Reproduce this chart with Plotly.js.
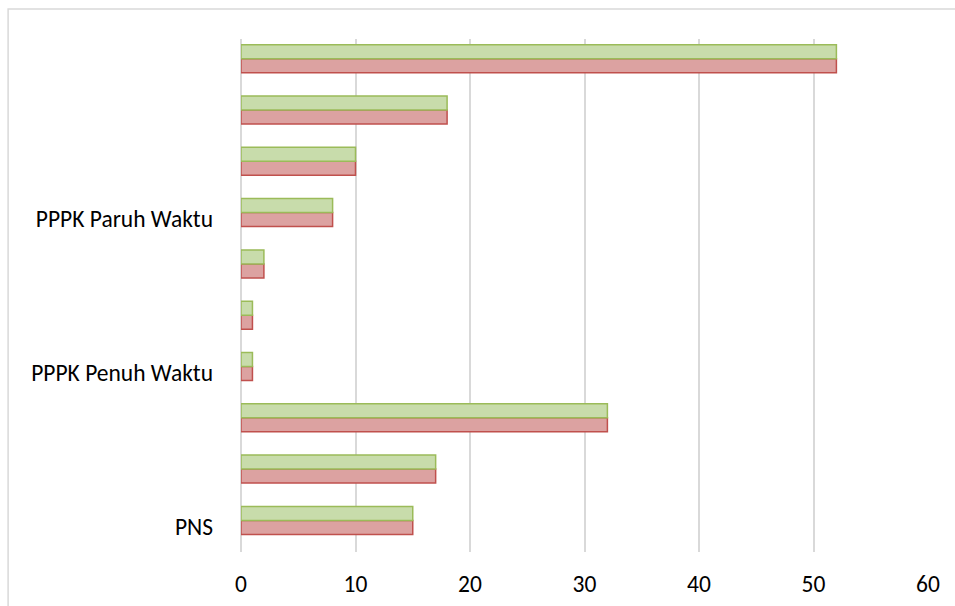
<!DOCTYPE html>
<html>
<head>
<meta charset="utf-8">
<script src="https://cdn.plot.ly/plotly-3.0.1.min.js"></script>
<style>html,body{margin:0;padding:0;background:#fff;}#chart{width:955px;height:606px;}</style>
</head>
<body>
<div id="chart"></div>
<script>
// Categories bottom to top; only every third label is shown in the reference
const categories = ["PNS", "", "", "PPPK Penuh Waktu", "", "", "PPPK Paruh Waktu", "", "", ""];
const seriesRed = [15, 17, 32, 1, 1, 2, 8, 10, 18, 52];
const seriesGreen = [15, 17, 32, 1, 1, 2, 8, 10, 18, 52];
const xTicks = [0, 10, 20, 30, 40, 50, 60];

const idx = categories.map((c, i) => i);
const shownIdx = idx.filter(i => categories[i] !== "");
const shownText = shownIdx.map(i => categories[i]);

const traces = [
  {
    type: 'bar', orientation: 'h', x: seriesRed, y: idx,
    width: 0.273, offset: -0.157,
    marker: {color: '#dca2a1', line: {color: '#c0504d', width: 1.5}},
    hoverinfo: 'x'
  },
  {
    type: 'bar', orientation: 'h', x: seriesGreen, y: idx,
    width: 0.273, offset: 0.116,
    marker: {color: '#c8dcab', line: {color: '#9bbb59', width: 1.5}},
    hoverinfo: 'x'
  }
];

const layout = {
  width: 955, height: 606,
  margin: {l: 241, r: 27, t: 39, b: 54},
  paper_bgcolor: '#ffffff', plot_bgcolor: '#ffffff',
  barmode: 'overlay',
  showlegend: false,
  font: {family: 'Carlito, Calibri, Lato, sans-serif', size: 23.5, color: '#000000'},
  xaxis: {
    range: [0, 60], tickvals: xTicks, ticktext: xTicks.map(String),
    showgrid: true, gridcolor: '#d9d9d9', gridwidth: 2,
    zeroline: true, zerolinecolor: '#d9d9d9', zerolinewidth: 2,
    showline: false, ticks: '',
    ticklabelstandoff: 15, fixedrange: true
  },
  yaxis: {
    range: [-0.5, categories.length - 0.5],
    tickvals: shownIdx, ticktext: shownText,
    showgrid: false, zeroline: false, showline: false, ticks: '',
    ticklabelstandoff: 27, fixedrange: true
  },
  shapes: [{
    type: 'rect', xref: 'paper', yref: 'paper',
    x0: -0.339, x1: 1.2, y0: -0.3, y1: 1.0585,
    line: {color: '#d9d9d9', width: 1.5}, fillcolor: 'rgba(0,0,0,0)', layer: 'below'
  }]
};

Plotly.newPlot('chart', traces, layout, {displayModeBar: false, staticPlot: true});
</script>
</body>
</html>
